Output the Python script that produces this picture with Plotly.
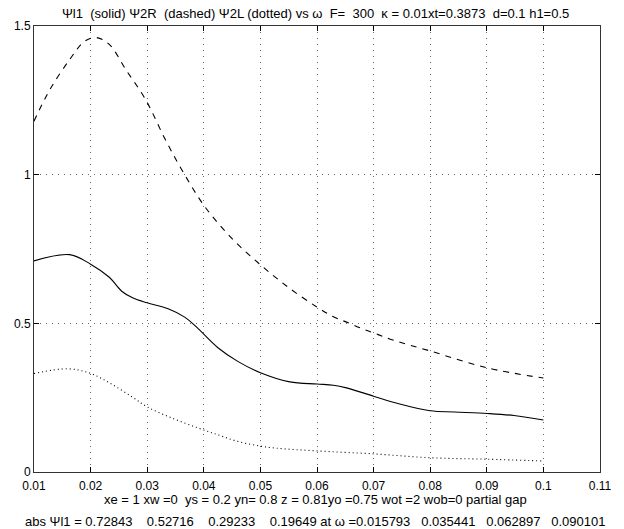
import plotly.graph_objects as go

# Ψl1 (solid)
omega_l1 = [0.01, 0.0163, 0.02, 0.0233, 0.0255, 0.0275, 0.03, 0.0337, 0.0367, 0.039,
            0.0425, 0.046, 0.05, 0.0552, 0.06, 0.0629, 0.0652, 0.07, 0.074, 0.08,
            0.0843, 0.0901, 0.0948, 0.1]
psi_l1 = [0.71, 0.731, 0.699, 0.655, 0.608, 0.585, 0.569, 0.549, 0.52, 0.482,
          0.418, 0.372, 0.334, 0.303, 0.296, 0.292, 0.283, 0.255, 0.232, 0.206,
          0.202, 0.197, 0.19, 0.175]

# Ψ2R (dashed)
omega_2r = [0.01, 0.0128, 0.0163, 0.0189, 0.021, 0.0233, 0.0262, 0.0297, 0.0332, 0.0364,
            0.0402, 0.045, 0.05, 0.055, 0.0599, 0.0629, 0.0655, 0.0681, 0.0704, 0.0734,
            0.08, 0.0901, 0.1]
psi_2r = [1.18, 1.286, 1.387, 1.448, 1.461, 1.438, 1.354, 1.253, 1.118, 1.007,
          0.892, 0.785, 0.697, 0.62, 0.556, 0.522, 0.502, 0.481, 0.465, 0.444,
          0.407, 0.35, 0.316]

# Ψ2L (dotted)
omega_2l = [0.01, 0.0159, 0.0198, 0.0233, 0.0273, 0.03, 0.0343, 0.039, 0.0425, 0.046,
            0.05, 0.0529, 0.06, 0.07, 0.08, 0.09, 0.1]
psi_2l = [0.331, 0.347, 0.333, 0.30, 0.253, 0.219, 0.182, 0.148, 0.125, 0.103,
          0.087, 0.08, 0.071, 0.061, 0.048, 0.043, 0.037]

x_ticks = [0.01, 0.02, 0.03, 0.04, 0.05, 0.06, 0.07, 0.08, 0.09, 0.1, 0.11]
x_labels = ["0.01", "0.02", "0.03", "0.04", "0.05", "0.06", "0.07", "0.08", "0.09", "0.1", "0.11"]
y_ticks = [0, 0.5, 1, 1.5]
y_labels = ["0", "0.5", "1", "1.5"]

title = "Ψl1&nbsp;&nbsp;(solid) Ψ2R&nbsp;&nbsp;(dashed) Ψ2L (dotted) vs ω&nbsp;&nbsp;F=&nbsp;&nbsp;300&nbsp;&nbsp;κ = 0.01xt=0.3873&nbsp;&nbsp;d=0.1 h1=0.5"
line1 = "xe = 1 xw =0&nbsp;&nbsp;ys = 0.2 yn= 0.8 z = 0.81yo =0.75 wot =2 wob=0 partial gap"
line2 = ("abs Ψl1 = 0.72843&nbsp;&nbsp;&nbsp;&nbsp;0.52716&nbsp;&nbsp;&nbsp;&nbsp;0.29233&nbsp;&nbsp;&nbsp;&nbsp;0.19649 "
         "at ω =0.015793&nbsp;&nbsp;&nbsp;0.035441&nbsp;&nbsp;&nbsp;0.062897&nbsp;&nbsp;&nbsp;0.090101")

FONT = "Liberation Sans, Arial, sans-serif"

fig = go.Figure()
fig.add_trace(go.Scatter(x=omega_l1, y=psi_l1, mode="lines",
                         line=dict(color="black", width=1.1, shape="spline", smoothing=1.0)))
fig.add_trace(go.Scatter(x=omega_2r, y=psi_2r, mode="lines",
                         line=dict(color="black", width=1.1, dash="6px,6px", shape="spline", smoothing=1.0)))
fig.add_trace(go.Scatter(x=omega_2l, y=psi_2l, mode="lines",
                         line=dict(color="black", width=1.1, dash="1px,3px", shape="spline", smoothing=1.0)))

axis_common = dict(showgrid=True, gridcolor="#666", griddash="1px,5px", gridwidth=1,
                   showline=True, linecolor="#333", linewidth=1, mirror="ticks",
                   ticks="inside", ticklen=5, tickcolor="black", zeroline=False,
                   tickfont=dict(size=12))

fig.update_layout(
    width=624, height=529,
    margin=dict(l=34, r=17, t=26, b=57),
    paper_bgcolor="white", plot_bgcolor="white",
    showlegend=False,
    font=dict(family=FONT, size=12, color="black"),
    xaxis=dict(range=[0.01, 0.11], tickvals=x_ticks, ticktext=x_labels,
               ticklabelstandoff=3, **axis_common),
    yaxis=dict(range=[0, 1.5], tickvals=y_ticks, ticktext=y_labels, **axis_common),
)

cx = 0.497
fig.add_annotation(text=title, xref="paper", yref="paper", x=cx, y=(472 - 13) / 446,
                   xanchor="center", yanchor="middle", showarrow=False, font=dict(size=13))
fig.add_annotation(text=line1, xref="paper", yref="paper", x=cx, y=(472 - 499) / 446,
                   xanchor="center", yanchor="middle", showarrow=False, font=dict(size=13))
fig.add_annotation(text=line2, xref="paper", yref="paper", x=cx, y=(472 - 521) / 446,
                   xanchor="center", yanchor="middle", showarrow=False, font=dict(size=13))

fig.write_html("out.html")
